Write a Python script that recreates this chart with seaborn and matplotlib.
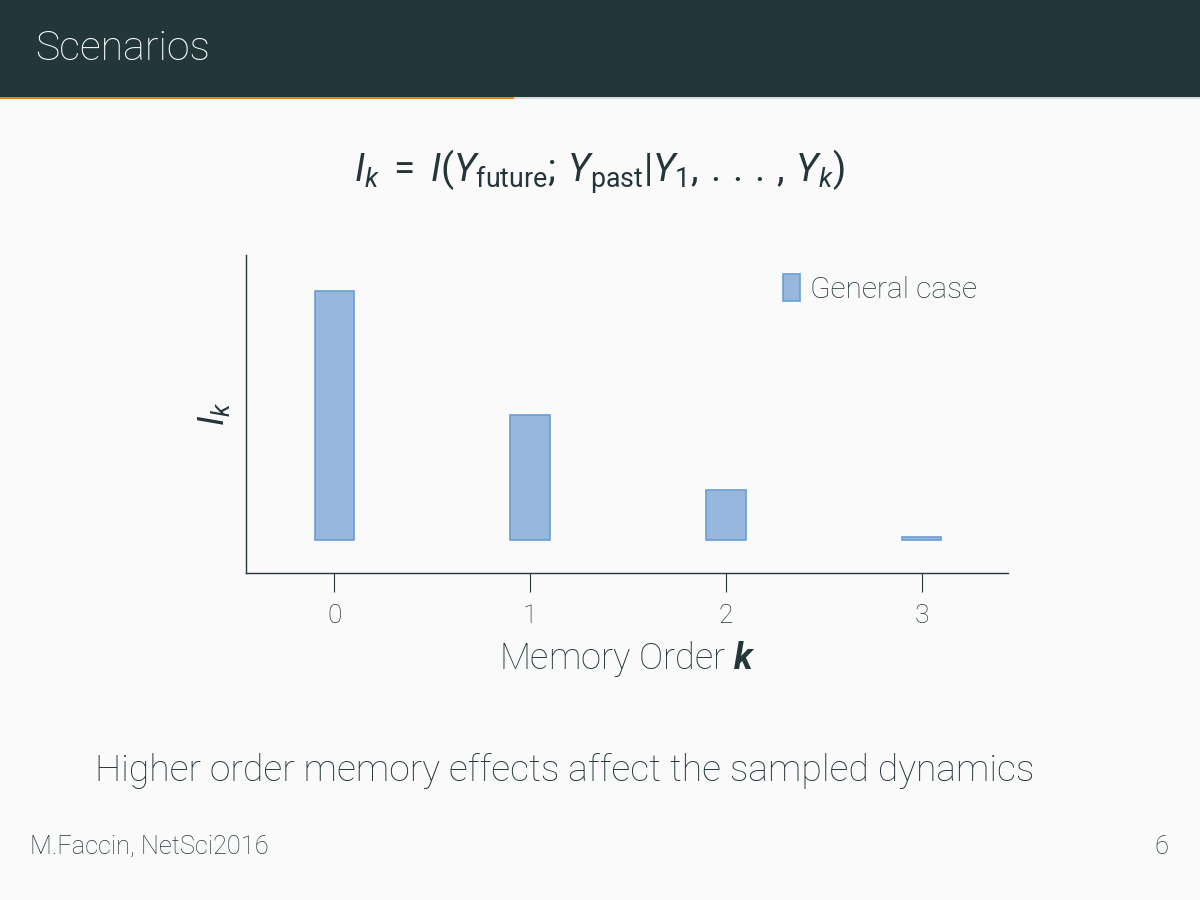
import matplotlib
matplotlib.use("Agg")
import matplotlib.pyplot as plt
import matplotlib.patches as mpatches
import seaborn as sns
import pandas as pd

orders = ["0", "1", "2", "3"]
info_values = [1.0, 0.5, 0.2, 0.012]
series_label = "General case"

slide_title = "Scenarios"
formula = r"$I_k\;=\;I(Y_{\mathrm{future}};\,Y_{\mathrm{past}}|Y_1,\,.\,.\,.\,,\,Y_k)$"
body_text = "Higher order memory effects affect the sampled dynamics"
footer_left = "M.Faccin, NetSci2016"
footer_right = "6"

dark = "#23373b"
bar_fill = "#95b8dc"
bar_edge = "#6b9dd3"

sns.set_theme(style="white")
plt.rcParams["font.family"] = ["Roboto", "DejaVu Sans"]
plt.rcParams["font.weight"] = "light"
plt.rcParams["axes.labelweight"] = "light"
plt.rcParams["mathtext.fontset"] = "custom"
plt.rcParams["mathtext.rm"] = "Roboto:weight=400"
plt.rcParams["mathtext.it"] = "Roboto:italic:weight=400"
plt.rcParams["mathtext.bf"] = "Roboto:weight=bold"
plt.rcParams["mathtext.bfit"] = "Roboto:italic:weight=bold"

fig = plt.figure(figsize=(12, 9), dpi=100, facecolor="#fafafa")

# header bar and progress line
fig.patches.append(mpatches.Rectangle((0, 1 - 97 / 900), 1, 97 / 900, transform=fig.transFigure,
                                      facecolor=dark, edgecolor="none", zorder=0))
fig.patches.append(mpatches.Rectangle((0, 1 - 99 / 900), 1, 2 / 900, transform=fig.transFigure,
                                      facecolor="#d8dcdc", edgecolor="none", zorder=1))
fig.patches.append(mpatches.Rectangle((0, 1 - 99 / 900), 514 / 1200, 2 / 900, transform=fig.transFigure,
                                      facecolor="#eb811b", edgecolor="none", zorder=2))
fig.text(35 / 1200, 1 - 49 / 900, slide_title, color="white", fontsize=29.5, va="center", ha="left")

fig.text(0.5, 1 - 172 / 900, formula, color=dark, fontsize=27.5, ha="center", va="center")

ax = fig.add_axes([246 / 1200, 1 - 573 / 900, 762 / 1200, 318 / 900])
ax.set_facecolor("#fafafa")
df = pd.DataFrame({"k": orders, "I": info_values})
sns.barplot(data=df, x="k", y="I", color=bar_fill, width=0.2, saturation=1,
            edgecolor=bar_edge, linewidth=1.2, label=series_label, ax=ax)

ax.set_xlim(-0.45, 3.44)
ax.set_ylim(-0.133, 1.145)
ax.set_yticks([])
for side in ["top", "right"]:
    ax.spines[side].set_visible(False)
for side in ["left", "bottom"]:
    ax.spines[side].set_color(dark)
    ax.spines[side].set_linewidth(1.0)
ax.tick_params(axis="x", bottom=True, length=14, width=0.8, color=dark, labelcolor=dark,
               labelsize=19, pad=8)
ax.set_xlabel(r"Memory Order $\mathbfit{k}$", color=dark, fontsize=26, labelpad=8)
ax.set_ylabel(r"$I_k$", color=dark, fontsize=26, labelpad=10)

ax.legend(loc="upper right", bbox_to_anchor=(0.995, 1.025), frameon=False, fontsize=21.5,
          handlelength=0.55, handleheight=1.0, handletextpad=0.35, labelcolor=dark)

fig.text(95 / 1200, 1 - 771 / 900, body_text, color=dark, fontsize=26.8, ha="left", va="center")
fig.text(30 / 1200, 1 - 847 / 900, footer_left, color=dark, fontsize=18.3, ha="left", va="center")
fig.text(1168 / 1200, 1 - 847 / 900, footer_right, color=dark, fontsize=18.3, ha="right", va="center")

fig.savefig("out.png", dpi=100, facecolor=fig.get_facecolor())
